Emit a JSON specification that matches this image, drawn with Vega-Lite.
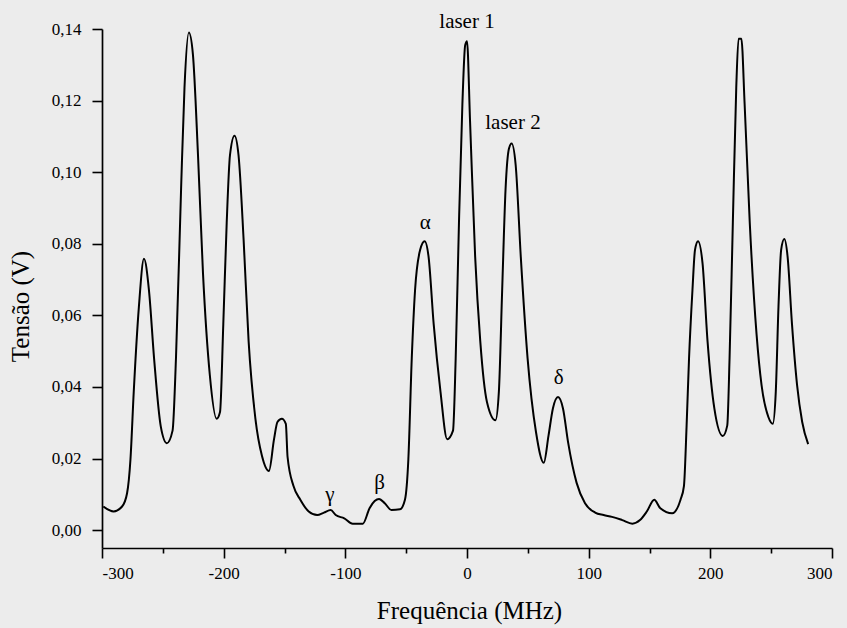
{
  "$schema": "https://vega.github.io/schema/vega-lite/v6.json",
  "width": 730,
  "height": 519,
  "autosize": "none",
  "padding": {"left": 102, "top": 29, "right": 15, "bottom": 80},
  "background": "#ececec",
  "config": {
    "view": {"stroke": null},
    "font": "Liberation Serif",
    "axis": {
      "domainColor": "#000000",
      "domainWidth": 1.7,
      "tickColor": "#000000",
      "tickWidth": 1.6,
      "grid": false,
      "labelColor": "#000000",
      "titleColor": "#000000",
      "labelFont": "Liberation Serif",
      "titleFont": "Liberation Serif",
      "labelFontSize": 17,
      "titleFontSize": 25,
      "titleFontWeight": "normal",
      "labelOverlap": false
    }
  },
  "datasets": {
    "spectrum": [
      {"f": -298.9, "v": 0.0066}, {"f": -290.5, "v": 0.0052}, {"f": -283.5, "v": 0.0066}, {"f": -279.4, "v": 0.0103},
      {"f": -276.6, "v": 0.0198}, {"f": -273.9, "v": 0.0387}, {"f": -269.7, "v": 0.0623}, {"f": -265.5, "v": 0.0758},
      {"f": -261.4, "v": 0.067}, {"f": -257.2, "v": 0.048}, {"f": -251.7, "v": 0.029}, {"f": -246.7, "v": 0.0243},
      {"f": -242, "v": 0.0278}, {"f": -239.2, "v": 0.048}, {"f": -235, "v": 0.0953}, {"f": -232.2, "v": 0.1236},
      {"f": -228.6, "v": 0.139}, {"f": -225.3, "v": 0.133}, {"f": -221.1, "v": 0.1048}, {"f": -217, "v": 0.0718},
      {"f": -211.4, "v": 0.0434}, {"f": -205.8, "v": 0.0311}, {"f": -203, "v": 0.033}, {"f": -200.3, "v": 0.0576},
      {"f": -197.5, "v": 0.0859}, {"f": -194.8, "v": 0.1048}, {"f": -191.1, "v": 0.1102}, {"f": -187.8, "v": 0.1048},
      {"f": -183.6, "v": 0.0811}, {"f": -179.5, "v": 0.0528}, {"f": -173.9, "v": 0.0311}, {"f": -168.5, "v": 0.0207},
      {"f": -162.8, "v": 0.0165}, {"f": -158.6, "v": 0.0254}, {"f": -155.8, "v": 0.0302}, {"f": -152.2, "v": 0.0311},
      {"f": -148.9, "v": 0.0297}, {"f": -147.5, "v": 0.0205}, {"f": -142.6, "v": 0.0123}, {"f": -137, "v": 0.0085},
      {"f": -130.1, "v": 0.0052}, {"f": -123.1, "v": 0.0042}, {"f": -117.6, "v": 0.0049}, {"f": -112, "v": 0.0056},
      {"f": -107.9, "v": 0.0042}, {"f": -100.9, "v": 0.0033}, {"f": -94, "v": 0.0018}, {"f": -85.6, "v": 0.0018},
      {"f": -80.1, "v": 0.0061}, {"f": -75.9, "v": 0.0081}, {"f": -72.3, "v": 0.0087}, {"f": -67.6, "v": 0.0075},
      {"f": -62.1, "v": 0.0056}, {"f": -55.1, "v": 0.0058}, {"f": -51, "v": 0.0085}, {"f": -48.2, "v": 0.0198},
      {"f": -45.4, "v": 0.048}, {"f": -42.7, "v": 0.067}, {"f": -38.5, "v": 0.0783}, {"f": -34.8, "v": 0.0807},
      {"f": -31.6, "v": 0.0764}, {"f": -27.4, "v": 0.0576}, {"f": -21.8, "v": 0.0387}, {"f": -16.3, "v": 0.0254},
      {"f": -11.5, "v": 0.0278}, {"f": -9.3, "v": 0.048}, {"f": -6.6, "v": 0.0859}, {"f": -3.8, "v": 0.1189},
      {"f": -1.5, "v": 0.1355}, {"f": 0, "v": 0.1366}, {"f": 2.5, "v": 0.1143}, {"f": 6.7, "v": 0.0764},
      {"f": 10.9, "v": 0.0528}, {"f": 16.4, "v": 0.0358}, {"f": 23.4, "v": 0.0307}, {"f": 26.2, "v": 0.0387},
      {"f": 28.9, "v": 0.067}, {"f": 31.7, "v": 0.0953}, {"f": 34.5, "v": 0.1066}, {"f": 36.7, "v": 0.108},
      {"f": 40, "v": 0.102}, {"f": 44.2, "v": 0.0764}, {"f": 49.8, "v": 0.048}, {"f": 56.7, "v": 0.0274},
      {"f": 63.1, "v": 0.0188}, {"f": 67, "v": 0.0264}, {"f": 70.6, "v": 0.034}, {"f": 74.8, "v": 0.0372},
      {"f": 78.9, "v": 0.034}, {"f": 83.1, "v": 0.0245}, {"f": 90.1, "v": 0.0132}, {"f": 97, "v": 0.0075},
      {"f": 105.3, "v": 0.0049}, {"f": 112.3, "v": 0.0042}, {"f": 119.2, "v": 0.0037}, {"f": 127.6, "v": 0.0028},
      {"f": 135.9, "v": 0.0018}, {"f": 142.2, "v": 0.0028}, {"f": 147.8, "v": 0.0052}, {"f": 153.9, "v": 0.0085},
      {"f": 158.9, "v": 0.0061}, {"f": 168.6, "v": 0.0047}, {"f": 175.5, "v": 0.0085}, {"f": 178.3, "v": 0.0123},
      {"f": 180.5, "v": 0.0292}, {"f": 182.5, "v": 0.048}, {"f": 185.3, "v": 0.067}, {"f": 187.4, "v": 0.0783},
      {"f": 189.9, "v": 0.0807}, {"f": 193.6, "v": 0.0745}, {"f": 197.7, "v": 0.0528}, {"f": 203.3, "v": 0.034},
      {"f": 210.2, "v": 0.0263}, {"f": 213.9, "v": 0.0292}, {"f": 215.8, "v": 0.048}, {"f": 218.5, "v": 0.0859},
      {"f": 221.3, "v": 0.1236}, {"f": 223.2, "v": 0.1373}, {"f": 225.5, "v": 0.1373}, {"f": 228.2, "v": 0.1189},
      {"f": 232.4, "v": 0.0859}, {"f": 238, "v": 0.0547}, {"f": 242.1, "v": 0.0405}, {"f": 247.7, "v": 0.0316},
      {"f": 251.3, "v": 0.0297}, {"f": 253.8, "v": 0.0387}, {"f": 256, "v": 0.0623}, {"f": 258.2, "v": 0.0783},
      {"f": 260.8, "v": 0.0813}, {"f": 263.5, "v": 0.0764}, {"f": 267.1, "v": 0.0576}, {"f": 271.3, "v": 0.0405},
      {"f": 275.5, "v": 0.0302}, {"f": 280.4, "v": 0.024}
    ],
    "notes": [
      {"f": 0, "v": 0.142, "t": "laser 1"},
      {"f": 37.8, "v": 0.1138, "t": "laser 2"},
      {"f": -34.3, "v": 0.0859, "t": "α"},
      {"f": -71.8, "v": 0.0132, "t": "β"},
      {"f": -112.6, "v": 0.0099, "t": "γ"},
      {"f": 75.3, "v": 0.0425, "t": "δ"}
    ]
  },
  "layer": [
    {
      "data": {"name": "spectrum"},
      "mark": {"type": "line", "color": "#000000", "strokeWidth": 2, "interpolate": "monotone"},
      "encoding": {
        "x": {
          "field": "f", "type": "quantitative",
          "scale": {"domain": [-300, 300], "nice": false, "zero": false},
          "axis": {
            "title": "Frequência (MHz)",
            "values": [-300, -250, -200, -150, -100, -50, 0, 50, 100, 150, 200, 250, 300],
            "labelExpr": "datum.value % 100 == 0 ? '' + datum.value : ''",
            "tickSize": {"condition": {"test": "datum.value % 100 == 0", "value": 10}, "value": 5},
            "labelPadding": 7,
            "titleX": 367,
            "titleY": 62,
            "titleBaseline": "middle",
            "titleAlign": "center"
          }
        },
        "y": {
          "field": "v", "type": "quantitative",
          "scale": {"domain": [-0.005, 0.14], "nice": false, "zero": false},
          "axis": {
            "title": "Tensão (V)",
            "values": [0, 0.01, 0.02, 0.03, 0.04, 0.05, 0.06, 0.07, 0.08, 0.09, 0.1, 0.11, 0.12, 0.13, 0.14],
            "labelExpr": "abs(round(datum.value * 100)) % 2 == 0 ? replace(format(datum.value, '.2f'), '.', ',') : ''",
            "tickSize": {"condition": {"test": "abs(round(datum.value * 100)) % 2 == 0", "value": 10}, "value": 5},
            "labelPadding": 11,
            "titleX": -82,
            "titleY": 277,
            "titleAngle": -90,
            "titleBaseline": "middle",
            "titleAlign": "center"
          }
        }
      }
    },
    {
      "data": {"name": "notes"},
      "mark": {"type": "text", "font": "Liberation Serif", "fontSize": 21, "color": "#000000", "baseline": "middle", "align": "center"},
      "encoding": {
        "x": {"field": "f", "type": "quantitative"},
        "y": {"field": "v", "type": "quantitative"},
        "text": {"field": "t"}
      }
    }
  ]
}
